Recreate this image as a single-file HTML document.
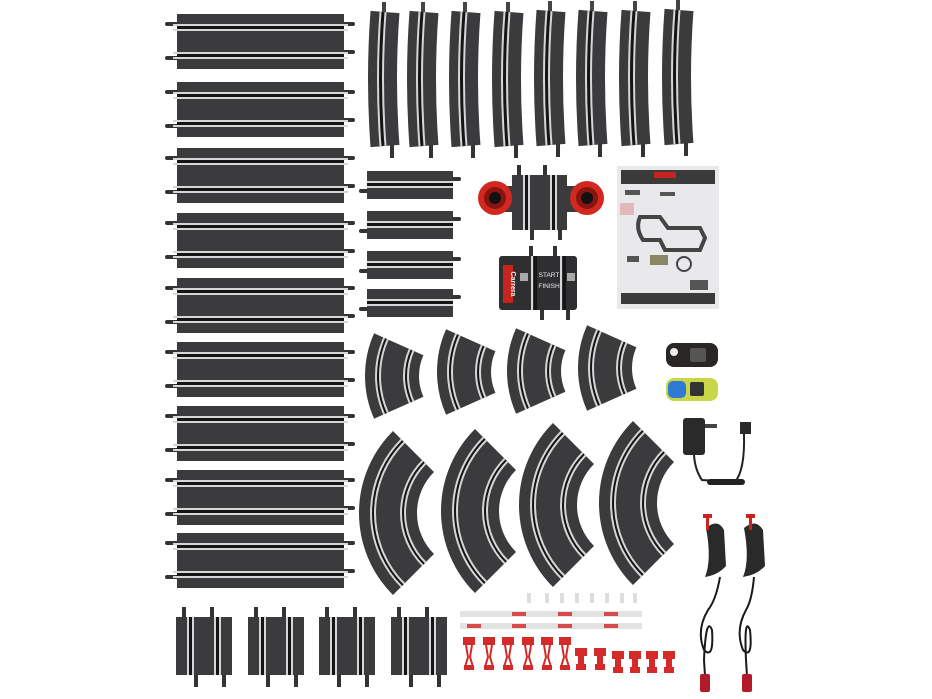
<!DOCTYPE html>
<html><head><meta charset="utf-8"><style>html,body{margin:0;padding:0;background:#fff;}svg{display:block}</style></head>
<body>
<svg width="932" height="699" viewBox="0 0 932 699" xmlns="http://www.w3.org/2000/svg" font-family="Liberation Sans, sans-serif">
<defs>
<g id="ls">
  <rect x="-12" y="8" width="14" height="4" rx="2" fill="#333"/>
  <rect x="-12" y="42" width="14" height="4" rx="2" fill="#333"/>
  <rect x="164" y="8" width="14" height="4" rx="2" fill="#333"/>
  <rect x="164" y="36" width="14" height="4" rx="2" fill="#333"/>
  <rect x="0" y="0" width="167" height="55" fill="#3b3b3d"/>
  <rect x="-4" y="10" width="175" height="2" fill="#d6d6d6"/>
  <rect x="0" y="12" width="167" height="3" fill="#151515"/>
  <rect x="-4" y="15" width="175" height="2" fill="#d6d6d6"/>
  <rect x="-4" y="38" width="175" height="2" fill="#d6d6d6"/>
  <rect x="0" y="40" width="167" height="3" fill="#151515"/>
  <rect x="-4" y="43" width="175" height="2" fill="#d6d6d6"/>
</g>
<g id="ss">
  <rect x="-8" y="18" width="10" height="4" rx="2" fill="#333"/>
  <rect x="84" y="6" width="10" height="4" rx="2" fill="#333"/>
  <rect x="0" y="0" width="86" height="28" fill="#3b3b3d"/>
  <rect x="0" y="10" width="86" height="2" fill="#d6d6d6"/>
  <rect x="0" y="12" width="86" height="3" fill="#151515"/>
  <rect x="0" y="15" width="86" height="2" fill="#d6d6d6"/>
</g>
<g id="vs">
  <rect x="6" y="-10" width="4" height="12" fill="#333"/>
  <rect x="34" y="-10" width="4" height="12" fill="#333"/>
  <rect x="18" y="56" width="4" height="14" fill="#333"/>
  <rect x="46" y="56" width="4" height="14" fill="#333"/>
  <rect x="0" y="0" width="56" height="58" fill="#3b3b3d"/>
  <rect x="11" y="0" width="2" height="58" fill="#d6d6d6"/>
  <rect x="13" y="0" width="3" height="58" fill="#151515"/>
  <rect x="16" y="0" width="2" height="58" fill="#d6d6d6"/>
  <rect x="38" y="0" width="2" height="58" fill="#d6d6d6"/>
  <rect x="40" y="0" width="3" height="58" fill="#151515"/>
  <rect x="43" y="0" width="2" height="58" fill="#d6d6d6"/>
</g>
<g id="cv">
  <rect x="12" y="-10" width="4" height="12" fill="#444"/>
  <rect x="20" y="132" width="4" height="14" fill="#333"/>
  <path d="M15,0 Q10,67 15,134" fill="none" stroke="#3b3b3d" stroke-width="29"/>
  <path d="M13,0 Q8,67 13,134" fill="none" stroke="#d6d6d6" stroke-width="7"/>
  <path d="M13,0 Q8,67 13,134" fill="none" stroke="#151515" stroke-width="3"/>
</g>
<g id="sc">
  <path d="M-71.25,-31.72 A78 78 0 0 0 -71.25,31.72" fill="none" stroke="#3b3b3d" stroke-width="54"/>
  <path d="M-58.46,-26.03 A64 64 0 0 0 -58.46,26.03" fill="none" stroke="#d6d6d6" stroke-width="6"/>
  <path d="M-58.46,-26.03 A64 64 0 0 0 -58.46,26.03" fill="none" stroke="#151515" stroke-width="2"/>
  <path d="M-84.04,-37.42 A92 92 0 0 0 -84.04,37.42" fill="none" stroke="#d6d6d6" stroke-width="6"/>
  <path d="M-84.04,-37.42 A92 92 0 0 0 -84.04,37.42" fill="none" stroke="#151515" stroke-width="2"/>
</g>
<g id="bc">
  <path d="M-61.52,-61.52 A87 87 0 0 0 -61.52,61.52" fill="none" stroke="#3b3b3d" stroke-width="58"/>
  <path d="M-50.91,-50.91 A72 72 0 0 0 -50.91,50.91" fill="none" stroke="#d6d6d6" stroke-width="6"/>
  <path d="M-50.91,-50.91 A72 72 0 0 0 -50.91,50.91" fill="none" stroke="#151515" stroke-width="2"/>
  <path d="M-72.12,-72.12 A102 102 0 0 0 -72.12,72.12" fill="none" stroke="#d6d6d6" stroke-width="6"/>
  <path d="M-72.12,-72.12 A102 102 0 0 0 -72.12,72.12" fill="none" stroke="#151515" stroke-width="2"/>
</g>
<g id="clipT">
  <rect x="0" y="0" width="12" height="8" fill="#d42a2a"/>
  <path d="M3,8 L5,20 L2,30 L10,30 L7,20 L9,8" fill="none" stroke="#d42a2a" stroke-width="2"/>
  <rect x="1" y="28" width="10" height="5" fill="#d42a2a"/>
</g>
<g id="clipS">
  <rect x="0" y="0" width="12" height="8" fill="#d42a2a"/>
  <rect x="3" y="8" width="6" height="8" fill="#d42a2a"/>
  <rect x="1" y="16" width="10" height="6" fill="#d42a2a"/>
</g>
</defs>

<use href="#ls" x="177" y="14"/>
<use href="#ls" x="177" y="82"/>
<use href="#ls" x="177" y="148"/>
<use href="#ls" x="177" y="213"/>
<use href="#ls" x="177" y="278"/>
<use href="#ls" x="177" y="342"/>
<use href="#ls" x="177" y="406"/>
<use href="#ls" x="177" y="470"/>
<use href="#ls" x="177" y="533"/>

<use href="#cv" x="370" y="12"/>
<use href="#cv" x="409" y="12"/>
<use href="#cv" x="451" y="12"/>
<use href="#cv" x="494" y="12"/>
<use href="#cv" x="536" y="11"/>
<use href="#cv" x="578" y="11"/>
<use href="#cv" x="621" y="11"/>
<use href="#cv" x="664" y="10"/>

<use href="#ss" x="367" y="171"/>
<use href="#ss" x="367" y="211"/>
<use href="#ss" x="367" y="251"/>
<use href="#ss" x="367" y="289"/>

<rect x="517" y="165" width="4" height="12" fill="#333"/><rect x="543" y="165" width="4" height="12" fill="#333"/>
<rect x="530" y="228" width="4" height="12" fill="#333"/><rect x="558" y="228" width="4" height="12" fill="#333"/>
<rect x="512" y="175" width="55" height="55" fill="#3b3b3d"/>
<rect x="500" y="186" width="80" height="26" fill="#3b3b3d"/>
<rect x="523" y="175" width="2" height="55" fill="#d6d6d6"/><rect x="525" y="175" width="3" height="55" fill="#151515"/><rect x="528" y="175" width="2" height="55" fill="#d6d6d6"/>
<rect x="550" y="175" width="2" height="55" fill="#d6d6d6"/><rect x="552" y="175" width="3" height="55" fill="#151515"/><rect x="555" y="175" width="2" height="55" fill="#d6d6d6"/>
<circle cx="495" cy="198" r="17" fill="#d3281f"/><circle cx="495" cy="198" r="11" fill="#8a1410"/><circle cx="495" cy="198" r="6" fill="#111"/>
<circle cx="587" cy="198" r="17" fill="#d3281f"/><circle cx="587" cy="198" r="11" fill="#8a1410"/><circle cx="587" cy="198" r="6" fill="#111"/>

<rect x="529" y="246" width="4" height="12" fill="#333"/><rect x="553" y="246" width="4" height="12" fill="#333"/>
<rect x="540" y="308" width="4" height="12" fill="#333"/><rect x="566" y="308" width="4" height="12" fill="#333"/>
<rect x="499" y="256" width="78" height="54" rx="3" fill="#2f2f31"/>
<rect x="503" y="265" width="10" height="38" fill="#c8231d"/>
<text x="0" y="0" transform="translate(511,284) rotate(90)" font-size="7" fill="#fff" text-anchor="middle" font-weight="bold">Carrera</text>
<rect x="531" y="256" width="2" height="54" fill="#d6d6d6"/><rect x="534" y="256" width="3" height="54" fill="#151515"/>
<rect x="560" y="256" width="2" height="54" fill="#d6d6d6"/><rect x="563" y="256" width="3" height="54" fill="#151515"/>
<text x="549" y="277" font-size="6.5" fill="#eee" text-anchor="middle">START</text>
<text x="549" y="288" font-size="6.5" fill="#eee" text-anchor="middle">FINISH</text>
<rect x="520" y="273" width="8" height="8" fill="#ddd" opacity=".7"/><rect x="567" y="273" width="8" height="8" fill="#ddd" opacity=".7"/>

<rect x="617" y="166" width="102" height="143" fill="#e9e9ec"/>
<rect x="621" y="170" width="94" height="14" fill="#3a3a3a"/>
<rect x="654" y="172" width="22" height="6" fill="#c8231d"/>
<rect x="620" y="203" width="14" height="12" fill="#d88" opacity=".5"/>
<path d="M640,217 L660,217 L668,228 L700,228 L705,238 L700,250 L665,250 L660,240 L643,240 Q635,228 640,217 Z" fill="none" stroke="#444" stroke-width="4"/>
<rect x="625" y="190" width="15" height="5" fill="#555"/><rect x="660" y="192" width="15" height="4" fill="#555"/>
<rect x="627" y="256" width="12" height="6" fill="#555"/><rect x="650" y="255" width="18" height="10" fill="#886"/>
<circle cx="684" cy="264" r="7" fill="none" stroke="#444" stroke-width="2"/>
<rect x="690" y="280" width="18" height="10" fill="#555"/>
<rect x="621" y="293" width="94" height="11" fill="#3a3a3a"/>

<use href="#sc" x="470" y="376"/>
<use href="#sc" x="542" y="372"/>
<use href="#sc" x="612" y="371"/>
<use href="#sc" x="683" y="368"/>

<use href="#bc" x="475" y="513"/>
<use href="#bc" x="557" y="511"/>
<use href="#bc" x="635" y="505"/>
<use href="#bc" x="715" y="503"/>

<use href="#vs" x="176" y="617"/>
<use href="#vs" x="248" y="617"/>
<use href="#vs" x="319" y="617"/>
<use href="#vs" x="391" y="617"/>

<rect x="666" y="343" width="52" height="24" rx="8" fill="#2a2624"/>
<rect x="690" y="348" width="16" height="14" rx="2" fill="#555"/>
<circle cx="674" cy="352" r="4" fill="#eee"/>
<rect x="666" y="378" width="52" height="23" rx="8" fill="#c9d64a"/>
<rect x="668" y="381" width="18" height="17" rx="5" fill="#2f7bd4"/>
<rect x="690" y="382" width="14" height="14" rx="2" fill="#333"/>

<rect x="683" y="418" width="22" height="37" rx="3" fill="#2a2a2a"/>
<rect x="705" y="424" width="12" height="4" fill="#444"/>
<rect x="740" y="422" width="11" height="12" fill="#2a2a2a"/>
<path d="M694,455 Q695,470 702,480 L735,482 Q745,470 744,434" fill="none" stroke="#222" stroke-width="2"/>
<rect x="707" y="479" width="38" height="6" rx="3" fill="#222"/>

<path d="M706,528 Q718,518 724,530 L726,566 Q718,575 705,577 Q712,560 706,528 Z" fill="#2a2a2a"/>
<rect x="703" y="514" width="9" height="4" fill="#c8231d"/><rect x="706" y="516" width="3" height="14" fill="#c8231d"/>
<path d="M744,528 Q756,518 763,530 L765,566 Q757,575 743,577 Q750,560 744,528 Z" fill="#2a2a2a"/>
<rect x="746" y="514" width="9" height="4" fill="#c8231d"/><rect x="749" y="516" width="3" height="14" fill="#c8231d"/>
<path d="M720,577 Q716,600 708,610 Q696,630 704,650 Q714,660 712,630 Q706,615 704,660 L705,676" fill="none" stroke="#1a1a1a" stroke-width="2"/>
<path d="M754,577 Q752,600 746,610 Q735,630 743,650 Q753,660 750,630 Q744,615 746,660 L747,676" fill="none" stroke="#1a1a1a" stroke-width="2"/>
<rect x="700" y="674" width="10" height="18" rx="2" fill="#b21c2a"/>
<rect x="742" y="674" width="10" height="18" rx="2" fill="#b21c2a"/>

<g fill="#ddd">
<rect x="527" y="593" width="4" height="10"/><rect x="545" y="593" width="4" height="10"/><rect x="560" y="593" width="4" height="10"/><rect x="575" y="593" width="4" height="10"/><rect x="590" y="593" width="4" height="10"/><rect x="605" y="593" width="4" height="10"/><rect x="620" y="593" width="4" height="10"/><rect x="633" y="593" width="4" height="10"/>
</g>
<rect x="460" y="611" width="182" height="6" fill="#e2e2e2"/>
<rect x="460" y="623" width="182" height="6" fill="#e2e2e2"/>
<g fill="#d74a4a"><rect x="512" y="612" width="14" height="4"/><rect x="558" y="612" width="14" height="4"/><rect x="604" y="612" width="14" height="4"/><rect x="467" y="624" width="14" height="4"/><rect x="512" y="624" width="14" height="4"/><rect x="558" y="624" width="14" height="4"/><rect x="604" y="624" width="14" height="4"/></g>
<use href="#clipT" x="463" y="637"/><use href="#clipT" x="483" y="637"/><use href="#clipT" x="502" y="637"/><use href="#clipT" x="522" y="637"/><use href="#clipT" x="541" y="637"/><use href="#clipT" x="559" y="637"/>
<use href="#clipS" x="575" y="648"/><use href="#clipS" x="594" y="648"/><use href="#clipS" x="612" y="651"/><use href="#clipS" x="629" y="651"/><use href="#clipS" x="646" y="651"/><use href="#clipS" x="663" y="651"/>
</svg>
</body></html>
